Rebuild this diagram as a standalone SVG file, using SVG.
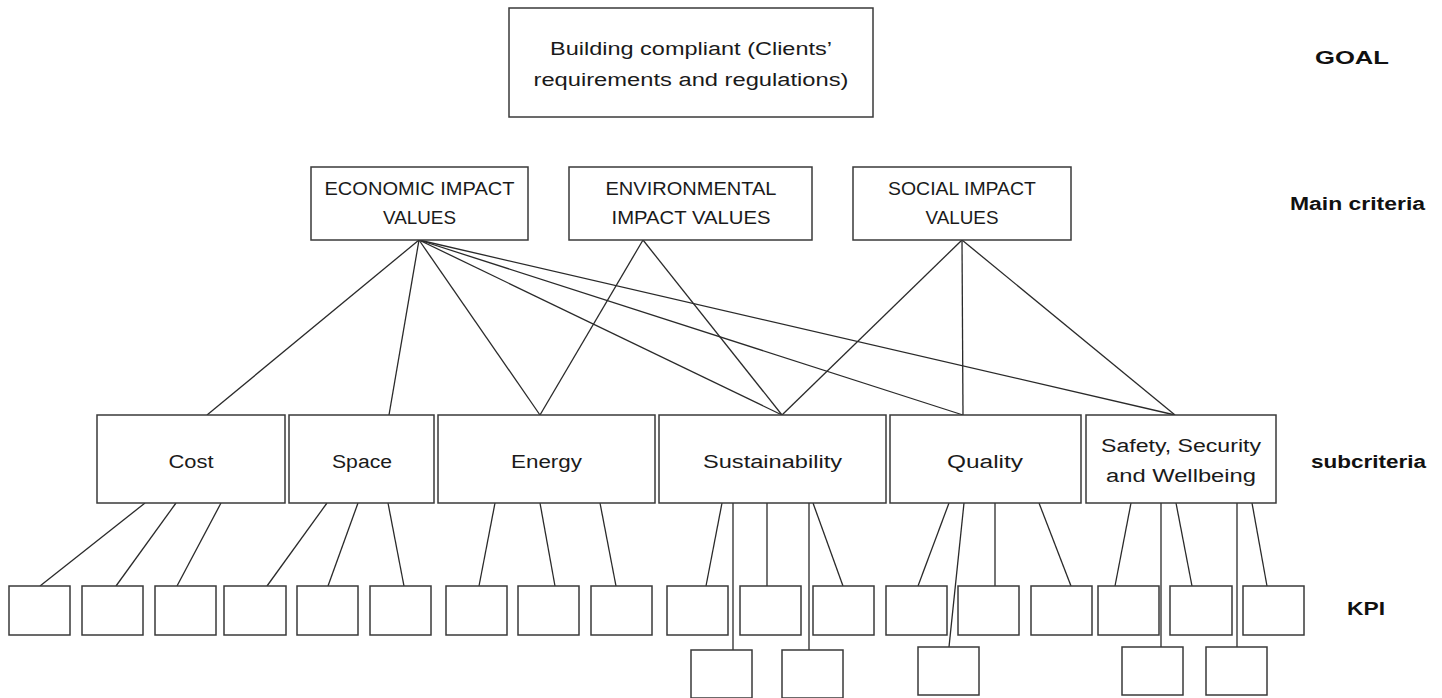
<svg xmlns="http://www.w3.org/2000/svg" width="1442" height="698" viewBox="0 0 1442 698">
<style>
.box{fill:#fff;stroke:#3a3a3a;stroke-width:1.5}
.t{font-family:"Liberation Sans",Arial,sans-serif;font-size:18px;fill:#1a1a1a;text-anchor:middle}
.lbl{font-family:"Liberation Sans",Arial,sans-serif;font-size:18px;font-weight:bold;fill:#111;text-anchor:middle}
.c line{stroke:#2a2a2a;stroke-width:1.3}
</style>
<rect width="1442" height="698" fill="#fff"/>
<g id="connectors" class="c">
<line x1="419" y1="240" x2="207" y2="415"/>
<line x1="419" y1="240" x2="389" y2="415"/>
<line x1="419" y1="240" x2="540" y2="415"/>
<line x1="419" y1="240" x2="782" y2="415"/>
<line x1="419" y1="240" x2="963" y2="415"/>
<line x1="419" y1="240" x2="1175" y2="415"/>
<line x1="643" y1="240" x2="540" y2="415"/>
<line x1="643" y1="240" x2="782" y2="415"/>
<line x1="962" y1="240" x2="782" y2="415"/>
<line x1="962" y1="240" x2="963" y2="415"/>
<line x1="962" y1="240" x2="1175" y2="415"/>
<line x1="145" y1="503" x2="40" y2="586"/>
<line x1="176" y1="503" x2="116" y2="586"/>
<line x1="221" y1="503" x2="177" y2="586"/>
<line x1="327" y1="503" x2="267" y2="586"/>
<line x1="358" y1="503" x2="328" y2="586"/>
<line x1="388" y1="503" x2="404" y2="586"/>
<line x1="495" y1="503" x2="479" y2="586"/>
<line x1="540" y1="503" x2="555" y2="586"/>
<line x1="600" y1="503" x2="616" y2="586"/>
<line x1="722" y1="503" x2="706" y2="586"/>
<line x1="733" y1="503" x2="733" y2="650"/>
<line x1="767" y1="503" x2="767" y2="586"/>
<line x1="809" y1="503" x2="809" y2="650"/>
<line x1="813" y1="503" x2="843" y2="586"/>
<line x1="949" y1="503" x2="918" y2="586"/>
<line x1="964" y1="503" x2="949" y2="647"/>
<line x1="995" y1="503" x2="995" y2="586"/>
<line x1="1039" y1="503" x2="1071" y2="586"/>
<line x1="1131" y1="503" x2="1115" y2="586"/>
<line x1="1161" y1="503" x2="1161" y2="647"/>
<line x1="1176" y1="503" x2="1192" y2="586"/>
<line x1="1237" y1="503" x2="1237" y2="647"/>
<line x1="1252" y1="503" x2="1267" y2="586"/>
</g>
<g id="goal">
<rect class="box" x="509" y="8" width="364" height="109"/>
<text class="t" x="691" y="55" textLength="282" lengthAdjust="spacingAndGlyphs">Building compliant (Clients’</text>
<text class="t" x="691" y="86" textLength="315" lengthAdjust="spacingAndGlyphs">requirements and regulations)</text>
</g>
<g id="economic">
<rect class="box" x="311" y="167" width="217" height="73"/>
<text class="t" x="419.5" y="195" textLength="190" lengthAdjust="spacingAndGlyphs">ECONOMIC IMPACT</text>
<text class="t" x="419.5" y="224" textLength="73" lengthAdjust="spacingAndGlyphs">VALUES</text>
</g>
<g id="environmental">
<rect class="box" x="569" y="167" width="243" height="73"/>
<text class="t" x="691" y="195" textLength="171" lengthAdjust="spacingAndGlyphs">ENVIRONMENTAL</text>
<text class="t" x="691" y="224" textLength="159" lengthAdjust="spacingAndGlyphs">IMPACT VALUES</text>
</g>
<g id="social">
<rect class="box" x="853" y="167" width="218" height="73"/>
<text class="t" x="962" y="195" textLength="148" lengthAdjust="spacingAndGlyphs">SOCIAL IMPACT</text>
<text class="t" x="962" y="224" textLength="73" lengthAdjust="spacingAndGlyphs">VALUES</text>
</g>
<g id="cost">
<rect class="box" x="97" y="415" width="188" height="88"/>
<text class="t" x="191" y="468" textLength="45" lengthAdjust="spacingAndGlyphs">Cost</text>
</g>
<g id="space">
<rect class="box" x="289" y="415" width="145" height="88"/>
<text class="t" x="362" y="468" textLength="60" lengthAdjust="spacingAndGlyphs">Space</text>
</g>
<g id="energy">
<rect class="box" x="438" y="415" width="217" height="88"/>
<text class="t" x="546.5" y="468" textLength="71" lengthAdjust="spacingAndGlyphs">Energy</text>
</g>
<g id="sustainability">
<rect class="box" x="659" y="415" width="227" height="88"/>
<text class="t" x="772.5" y="468" textLength="139" lengthAdjust="spacingAndGlyphs">Sustainability</text>
</g>
<g id="quality">
<rect class="box" x="890" y="415" width="191" height="88"/>
<text class="t" x="985" y="468" textLength="76" lengthAdjust="spacingAndGlyphs">Quality</text>
</g>
<g id="safety">
<rect class="box" x="1086" y="415" width="190" height="88"/>
<text class="t" x="1181" y="452" textLength="160" lengthAdjust="spacingAndGlyphs">Safety, Security</text>
<text class="t" x="1181" y="482" textLength="150" lengthAdjust="spacingAndGlyphs">and Wellbeing</text>
</g>
<g id="kpis">
<rect id="kpi1" class="box" x="9" y="586" width="61" height="49"/>
<rect id="kpi2" class="box" x="82" y="586" width="61" height="49"/>
<rect id="kpi3" class="box" x="155" y="586" width="61" height="49"/>
<rect id="kpi4" class="box" x="224" y="586" width="62" height="49"/>
<rect id="kpi5" class="box" x="297" y="586" width="61" height="49"/>
<rect id="kpi6" class="box" x="370" y="586" width="61" height="49"/>
<rect id="kpi7" class="box" x="446" y="586" width="61" height="49"/>
<rect id="kpi8" class="box" x="518" y="586" width="61" height="49"/>
<rect id="kpi9" class="box" x="591" y="586" width="61" height="49"/>
<rect id="kpi10" class="box" x="667" y="586" width="61" height="49"/>
<rect id="kpi11" class="box" x="740" y="586" width="61" height="49"/>
<rect id="kpi12" class="box" x="813" y="586" width="61" height="49"/>
<rect id="kpi13" class="box" x="886" y="586" width="61" height="49"/>
<rect id="kpi14" class="box" x="958" y="586" width="61" height="49"/>
<rect id="kpi15" class="box" x="1031" y="586" width="61" height="49"/>
<rect id="kpi16" class="box" x="1098" y="586" width="61" height="49"/>
<rect id="kpi17" class="box" x="1170" y="586" width="62" height="49"/>
<rect id="kpi18" class="box" x="1243" y="586" width="61" height="49"/>
<rect id="kpi19" class="box" x="691" y="650" width="61" height="48"/>
<rect id="kpi20" class="box" x="782" y="650" width="61" height="48"/>
<rect id="kpi21" class="box" x="918" y="647" width="61" height="48"/>
<rect id="kpi22" class="box" x="1122" y="647" width="61" height="48"/>
<rect id="kpi23" class="box" x="1206" y="647" width="61" height="48"/>
</g>
<g id="level-labels">
<text class="lbl" x="1352" y="64" textLength="74" lengthAdjust="spacingAndGlyphs">GOAL</text>
<text class="lbl" x="1357.5" y="210" textLength="135" lengthAdjust="spacingAndGlyphs">Main criteria</text>
<text class="lbl" x="1368.5" y="468" textLength="115" lengthAdjust="spacingAndGlyphs">subcriteria</text>
<text class="lbl" x="1366" y="615" textLength="38" lengthAdjust="spacingAndGlyphs">KPI</text>
</g>
</svg>
